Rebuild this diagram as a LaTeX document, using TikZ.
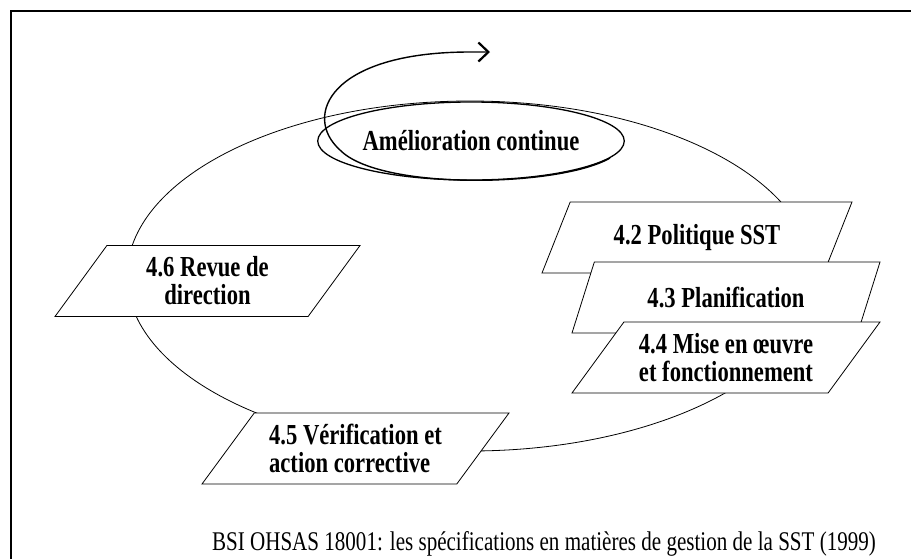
\documentclass[tikz,border=0pt]{standalone}
\usepackage{fontspec}
\setmainfont{Liberation Serif}
\newfontfamily\etroite[FakeStretch=0.78]{Liberation Serif}
\usetikzlibrary{arrows.meta,positioning,shapes.geometric}

\tikzset{
  etape/.style={trapezium, trapezium left angle=43, trapezium right angle=137,
    trapezium stretches body, draw, fill=white, line width=0.8pt,
    minimum width=#1, minimum height=71pt, inner sep=0pt,
    align=center, font=\etroite\fontsize{29}{28}\selectfont\bfseries},
  etape/.default=308pt
}

\begin{document}
\begin{tikzpicture}[x=1pt,y=-1pt,
        node distance=60pt,on grid
    ]
    \useasboundingbox (0,0) rectangle (911,558);
    \draw[line width=2.5pt] (11,11) rectangle (925,575);
    % le cycle
    \node[ellipse,draw,line width=0.8pt,minimum width=686pt,minimum height=350pt] (cycle) at (470,276) {};
    \node[etape=305pt] (p46) at (207.5,281) {4.6 Revue de\\direction};
    \node[etape=307pt,align=left] (p45) at (355.5,448.5) {4.5 Vérification et\\action corrective};
    \node[etape=310pt] (p42) at (697,237.5) {4.2 Politique SST};
    \node[etape] (p43) [below right=60pt and 29pt of p42] {4.3 Planification};
    \node[etape] (p44) [below=of p43] {4.4 Mise en œuvre\\et fonctionnement};
    % amelioration continue
    \node[ellipse,draw,line width=1.3pt,minimum width=262pt,minimum height=78pt,inner sep=0pt,
        font=\etroite\fontsize{29}{28}\selectfont\bfseries] (ame) at (471,141) {Amélioration continue};
    \coordinate (tip) at (490,52);
    \draw[line width=1.4pt,-{Straight Barb[length=10pt,width=19pt,line width=2.2pt]}]
        (ame.-7) .. controls (560,187) and (380,191) .. (340,150)
        .. controls (302,116) and (330,52) .. (470,52) -- (tip);
    \node[anchor=base,font=\etroite\fontsize{27}{30}\selectfont] (src) at (544,550)
        {BSI OHSAS 18001: les spécifications en matières de gestion de la SST (1999)};
\end{tikzpicture}
\end{document}
